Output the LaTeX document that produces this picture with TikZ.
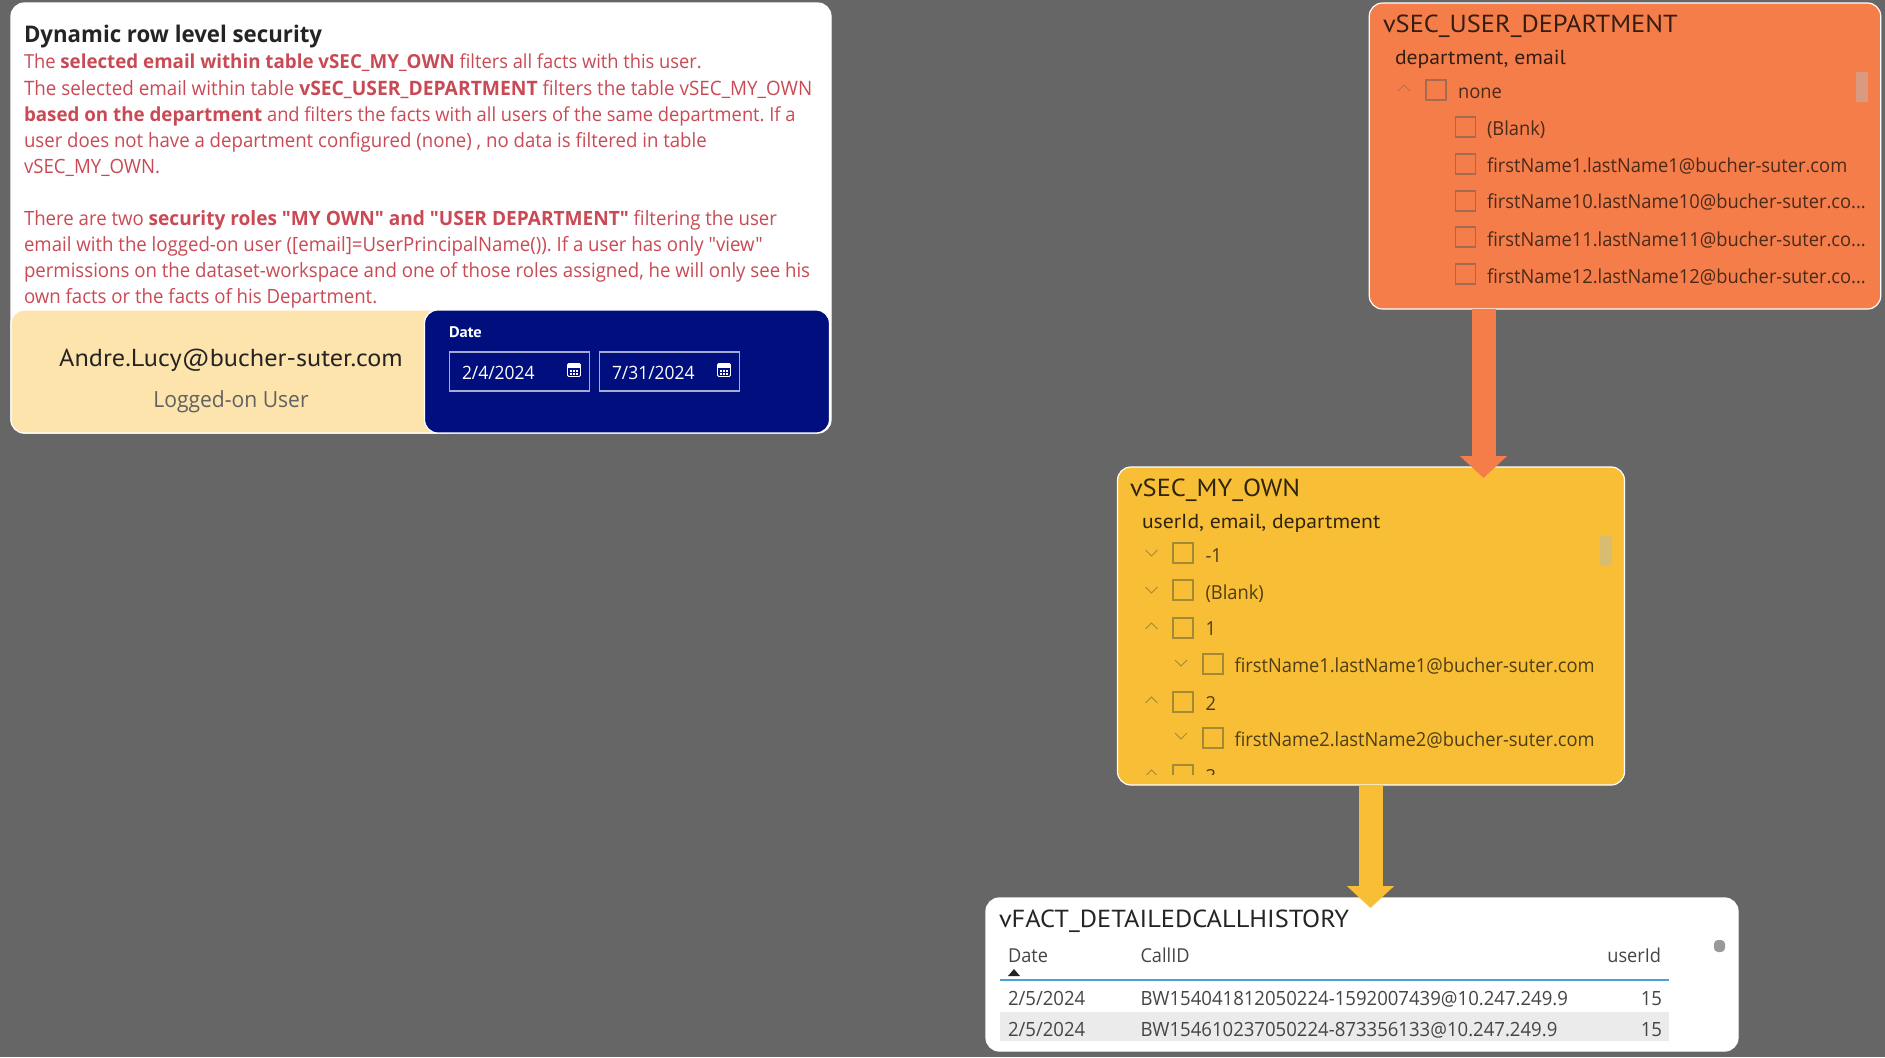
\documentclass[tikz,border=0pt]{standalone}
\usepackage{fontspec}
\setmainfont{Open Sans}[FakeStretch=0.947]
\newfontfamily\din{PT Sans}[FakeStretch=1.07]
\newfontfamily\seg{Open Sans}[FakeStretch=0.947,BoldFeatures={FakeStretch=0.97}]
\usetikzlibrary{arrows.meta,calc}
\definecolor{bgc}{HTML}{666666}
\definecolor{orangec}{HTML}{F47D4A}
\definecolor{yellowc}{HTML}{F8BF36}
\definecolor{creamc}{HTML}{FCE4AC}
\definecolor{navyc}{HTML}{000F7D}
\definecolor{redc}{HTML}{C94A55}
\definecolor{otext}{HTML}{4B2A1A}
\definecolor{ytext}{HTML}{4F3D14}
\definecolor{oedge}{HTML}{A66A4E}
\definecolor{yedge}{HTML}{A58A35}
\definecolor{ochev}{HTML}{BC6E4C}
\definecolor{oscroll}{HTML}{DA9A80}
\definecolor{yscroll}{HTML}{D8BC70}
\definecolor{darkc}{HTML}{252423}
\tikzset{
  x=0.75pt,y=-0.75pt,
  card/.style={draw=white,line width=0.9pt,rounded corners=10pt,inner sep=0pt,outer sep=0pt},
  lbl/.style={anchor=base west,inner sep=0pt,outer sep=0pt},
  rlbl/.style={anchor=base east,inner sep=0pt,outer sep=0pt},
  clbl/.style={anchor=base,inner sep=0pt,outer sep=0pt},
  body/.style={lbl,text=redc,font=\seg\fontsize{14.75}{18}\selectfont\frenchspacing},
  bodyn/.style={lbl,text=redc,font=\seg\fontsize{14.5}{18}\selectfont\frenchspacing},
  bodyw/.style={lbl,text=redc,font=\seg\fontsize{14.9}{18}\selectfont\frenchspacing},
  dintitle/.style={lbl,font=\din\fontsize{18.5}{20}\selectfont},
  dinsub/.style={lbl,font=\din\fontsize{15.2}{18}\selectfont},
  rowo/.style={lbl,text=otext,font=\seg\fontsize{14.5}{18}\selectfont},
  rowy/.style={lbl,text=ytext,font=\seg\fontsize{14.5}{18}\selectfont},
  tabt/.style={text=darkc!85!white,font=\seg\fontsize{14.7}{18}\selectfont},
  tabh/.style={text=darkc!85!white,font=\seg\fontsize{14.4}{18}\selectfont},
  boxo/.style={draw=oedge,line width=0.8pt},
  boxy/.style={draw=yedge,line width=0.8pt},
  datebox/.style={draw=white!65!navyc,line width=0.9pt,fill=navyc,inner sep=0pt,outer sep=0pt},
  flow/.style={line width=18pt},
  flowtip/.style={-{Triangle[width=34.5pt,length=16.5pt]}},
}
\newcommand{\chkO}[2]{\draw[boxo] (#1,#2) rectangle ++(20,20);}
\newcommand{\chkY}[2]{\draw[boxy] (#1,#2) rectangle ++(20,20);}
\newcommand{\chevup}[3]{\draw[#3,line width=0.7pt] (#1-6,#2+3) -- (#1,#2-3) -- (#1+6,#2+3);}
\newcommand{\chevdn}[3]{\draw[#3,line width=0.7pt] (#1-6,#2-3) -- (#1,#2+3) -- (#1+6,#2-3);}
\newcommand{\calicon}[2]{%
  \draw[white,line width=0.7pt,rounded corners=1pt] (#1-6.5,#2-6.5) rectangle (#1+6.5,#2+6.5);
  \fill[white] (#1-6.5,#2-6.5) rectangle (#1+6.5,#2-2.5);
  \foreach \u in {-3,0,3}{\foreach \v in {1,4}{\fill[white] (#1+\u-0.9,#2+\v-0.9) rectangle ++(1.8,1.8);}}
}
\begin{document}
\begin{tikzpicture}
\path[use as bounding box,fill=bgc] (0,0) rectangle (1885,1057);

% ---- top left card
\node[card,fill=white,minimum width=820*0.75pt,minimum height=430*0.75pt] (intro) at (421,218) {};
\node[lbl,text=darkc,font=\seg\fontsize{17.2}{20}\selectfont\bfseries] (head) at (24,42) {Dynamic row level security};
\node[bodyn] (l1) at (24,68) {The \textbf{selected email within table vSEC\_MY\_OWN} filters all facts with this user.};
\node[bodyw] (l2) at (24,95) {The selected email within table \textbf{vSEC\_USER\_DEPARTMENT} filters the table vSEC\_MY\_OWN};
\node[bodyn] (l3) at (24,121) {\textbf{based on the department} and filters the facts with all users of the same department. If a};
\node[body] (l4) at (24,147) {user does not have a department configured (none) , no data is filtered in table};
\node[body] (l5) at (24,173) {vSEC\_MY\_OWN.};
\node[body] (l6) at (24,225) {There are two \textbf{security roles "MY OWN" and "USER DEPARTMENT"} filtering the user};
\node[body] (l7) at (24,251) {email with the logged-on user ([email]=UserPrincipalName()). If a user has only "view"};
\node[body] (l8) at (24,277) {permissions on the dataset-workspace and one of those roles assigned, he will only see his};
\node[body] (l9) at (24,303) {own facts or the facts of his Department.};

\node[card,fill=creamc,minimum width=450*0.75pt,minimum height=123*0.75pt] (userpanel) at (236,371.5) {};
\node[card,fill=navyc,minimum width=405*0.75pt,minimum height=123*0.75pt] (datepanel) at (627,371.5) {};
\node[clbl,text=darkc,font=\din\fontsize{18.4}{22}\selectfont] (useremail) at (231,366) {Andre.Lucy@bucher-suter.com};
\node[clbl,text=black!62,font=\seg\fontsize{16.7}{20}\selectfont] (usercap) at (231,407) {Logged-on User};
\node[lbl,text=white,font=\din\fontsize{11.5}{14}\selectfont\bfseries] (datecap) at (449,337) {Date};
\node[datebox,minimum width=140*0.75pt,minimum height=39*0.75pt] (d1box) at (519.5,371.5) {};
\node[datebox,minimum width=140*0.75pt,minimum height=39*0.75pt] (d2box) at (669.5,371.5) {};
\node[lbl,text=white,font=\seg\fontsize{13.8}{16}\selectfont] (d1) at (462,379) {2/4/2024};
\node[lbl,text=white,font=\seg\fontsize{13.8}{16}\selectfont] (d2) at (612,379) {7/31/2024};
\calicon{574}{370}
\calicon{724}{370}

% ---- cards on the right
\node[card,fill=orangec,minimum width=511.5*0.75pt,minimum height=306*0.75pt] (dept) at (1625,156) {};
\node[card,fill=yellowc,minimum width=507*0.75pt,minimum height=318*0.75pt] (own) at (1371,626) {};
\node[card,fill=white,minimum width=752*0.75pt,minimum height=153*0.75pt] (fact) at (1362,974.5) {};

% ---- vSEC_USER_DEPARTMENT
\node[dintitle,text=otext!70!black] (t1) at (1383,32) {vSEC\_USER\_DEPARTMENT};
\node[dinsub,text=otext!70!black] (s1) at (1395,64) {department, email};
\chevup{1404}{88}{ochev}
\chkO{1426}{80}
\node[rowo] (o0) at (1458,98) {none};
\chkO{1455.5}{117}
\node[rowo] (o1) at (1487,135) {(Blank)};
\chkO{1455.5}{154}
\node[rowo] (o2) at (1487,172) {firstName1.lastName1@bucher-suter.com};
\chkO{1455.5}{191}
\node[rowo] (o3) at (1487,208) {firstName10.lastName10@bucher-suter.co...};
\chkO{1455.5}{227}
\node[rowo] (o4) at (1487,246) {firstName11.lastName11@bucher-suter.co...};
\chkO{1455.5}{264}
\node[rowo] (o5) at (1487,283) {firstName12.lastName12@bucher-suter.co...};
\fill[oscroll] (1856,72) rectangle (1868,102);

% ---- vSEC_MY_OWN
\node[dintitle,text=ytext!60!black] (t2) at (1130,496) {vSEC\_MY\_OWN};
\node[dinsub,text=ytext!60!black] (s2) at (1142,528) {userId, email, department};
\chevdn{1151.5}{553}{yedge}
\chkY{1173}{543}
\node[rowy] (y0) at (1205.5,562) {-1};
\chevdn{1151.5}{590}{yedge}
\chkY{1173}{580}
\node[rowy] (y1) at (1205.5,599) {(Blank)};
\chevup{1151.5}{626}{yedge}
\chkY{1173}{618}
\node[rowy] (y2) at (1205.5,635) {1};
\chevdn{1181}{663}{yedge}
\chkY{1203}{654}
\node[rowy] (y3) at (1234.5,672) {firstName1.lastName1@bucher-suter.com};
\chevup{1151.5}{700}{yedge}
\chkY{1173}{692}
\node[rowy] (y4) at (1205.5,710) {2};
\chevdn{1181}{736}{yedge}
\chkY{1203}{728}
\node[rowy] (y5) at (1234.5,746) {firstName2.lastName2@bucher-suter.com};
\begin{scope}
\clip (1130,762) rectangle (1300,774);
\chevup{1151.5}{773}{yedge}
\chkY{1173}{765}
\node[rowy] (y6) at (1205.5,783) {3};
\end{scope}
\fill[yscroll] (1600,536) rectangle (1612,566);

% ---- vFACT_DETAILEDCALLHISTORY
\node[dintitle,text=darkc] (t3) at (999,927) {vFACT\_DETAILEDCALLHISTORY};
\fill[black!8] (1000,1012) rectangle (1669,1041);
\draw[draw={rgb,255:red,76;green,160;blue,216},line width=0.9pt] (1000,980) -- (1669,980);
\node[lbl,tabh] (hdate) at (1008,962) {Date};
\node[lbl,tabh] (hcall) at (1140.5,962) {CallID};
\node[rlbl,tabh] (huser) at (1661,962) {userId};
\fill[darkc] (1008,976) -- (1014,969) -- (1020,976) -- cycle;
\node[lbl,tabt] (r1d) at (1008,1005) {2/5/2024};
\node[lbl,tabt] (r1c) at (1140.5,1005) {BW154041812050224-1592007439@10.247.249.9};
\node[rlbl,tabt] (r1u) at (1662,1005) {15};
\node[lbl,tabt] (r2d) at (1008,1036) {2/5/2024};
\node[lbl,tabt] (r2c) at (1140.5,1036) {BW154610237050224-873356133@10.247.249.9};
\node[rlbl,tabt] (r2u) at (1662,1036) {15};
\fill[black!40,rounded corners=3pt] (1714,940) rectangle (1725,952);

% ---- connectors
\coordinate (tipa) at (1483.5,478);
\coordinate (tipb) at (1370.5,908);
\draw[flow,flowtip,orangec] (tipa |- dept.south) -- (tipa);
\draw[flow,flowtip,yellowc] (tipb |- own.south) -- (tipb);
\end{tikzpicture}
\end{document}
